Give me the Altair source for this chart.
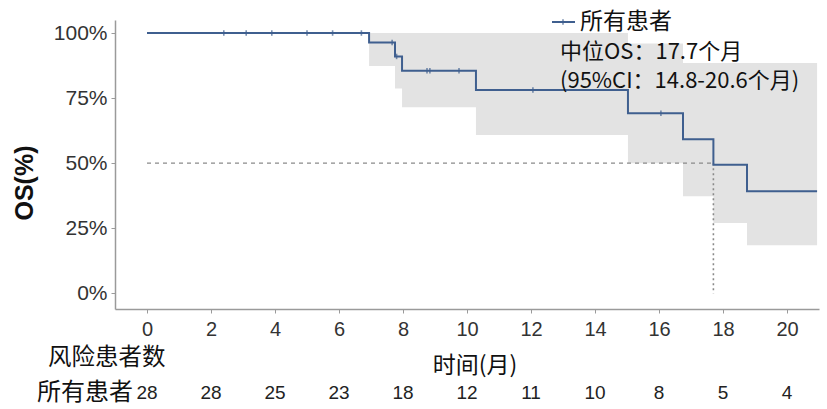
import altair as alt
import pandas as pd

# Kaplan-Meier overall survival (months, % alive) and its 95% CI band
step_time = [0, 6.94, 7.75, 7.97, 10.28, 15.03, 16.75, 17.7, 18.75, 20.94]
surv = [100, 96.4, 91.0, 85.5, 78.1, 69.2, 59.2, 49.4, 39.2, 39.2]
ci_low = [100, 87.3, 78.7, 71.5, 60.8, 50.0, 37.3, 27.0, 18.5, 18.5]
ci_high = [100, 100, 100, 100, 100, 96.0, 88.5, 88.5, 88.5, 88.5]

# censored observations
censor_time = [2.4, 3.1, 3.9, 5.0, 5.8, 6.7, 7.66, 7.8, 8.75, 8.84, 9.75, 12.06, 16.06]
censor_surv = [100, 100, 100, 100, 100, 100, 96.4, 91.0, 85.5, 85.5, 85.5, 78.1, 69.2]

median_os = 17.7

# number at risk table
risk_time = [0, 2, 4, 6, 8, 10, 12, 14, 16, 18, 20]
at_risk = [28, 28, 25, 23, 18, 12, 11, 10, 8, 5, 4]

x_ticks = [0, 2, 4, 6, 8, 10, 12, 14, 16, 18, 20]
y_ticks = [0, 25, 50, 75, 100]

legend_label = "所有患者"
median_text = "中位OS：17.7个月"
ci_text = "(95%CI：14.8-20.6个月)"

LINE = "#3f5f8f"
AXIS = "#9a9a9a"
CJK = "Noto Sans CJK SC"
LAT = "Liberation Sans"

km = pd.DataFrame({"t": step_time, "s": surv, "lo": ci_low, "hi": ci_high})
cens = pd.DataFrame({"t": censor_time, "s": censor_surv})
risk = pd.DataFrame({"t": risk_time, "n": at_risk})
med = pd.DataFrame({"t0": [0], "t": [median_os], "half": [50], "zero": [0]})

xs = alt.Scale(domain=[-1, 21], nice=False, zero=False)
ys = alt.Scale(domain=[-6, 105], nice=False, zero=False)

x_axis = alt.Axis(values=x_ticks, title=None, grid=False, domainColor=AXIS,
                  domainWidth=1.5, tickColor=AXIS, tickSize=4, labelFontSize=20,
                  labelColor="#333333", labelFont=LAT, labelPadding=6, labelFlush=False)
y_axis = alt.Axis(values=y_ticks, title=None, grid=False, domainColor=AXIS,
                  domainWidth=1.5, tickColor=AXIS, tickSize=4, labelFontSize=21,
                  labelColor="#333333", labelFont=LAT, labelPadding=4,
                  labelExpr="datum.value + '%'")

band = alt.Chart(km).mark_area(interpolate="step-after", color="#e3e3e3").encode(
    x=alt.X("t:Q", scale=xs, axis=x_axis),
    y=alt.Y("lo:Q", scale=ys, axis=y_axis),
    y2="hi:Q",
)

curve = alt.Chart(km).mark_line(interpolate="step-after", color=LINE, strokeWidth=2).encode(
    x=alt.X("t:Q", scale=xs), y=alt.Y("s:Q", scale=ys)
)

ticks = alt.Chart(cens).mark_point(shape="M0,-1L0,1", color=LINE, strokeWidth=1.6,
                                   size=30, filled=False).encode(
    x=alt.X("t:Q", scale=xs), y=alt.Y("s:Q", scale=ys)
)

h_ref = alt.Chart(med).mark_rule(color="#8a8a8a", strokeDash=[4, 4], strokeWidth=1.3).encode(
    x=alt.X("t0:Q", scale=xs), x2="t:Q", y=alt.Y("half:Q", scale=ys)
)
v_ref = alt.Chart(med).mark_rule(color="#8a8a8a", strokeDash=[2, 3], strokeWidth=1.6).encode(
    x=alt.X("t:Q", scale=xs), y=alt.Y("half:Q", scale=ys), y2="zero:Q"
)

risk_nums = alt.Chart(risk).mark_text(font=LAT, fontSize=19, color="#222222",
                                      baseline="middle").encode(
    x=alt.X("t:Q", scale=xs), y=alt.value(373), text="n:Q"
)


def label(txt, x, y, size, align="left", font=CJK, weight="normal", angle=0):
    return alt.Chart(pd.DataFrame({"txt": [txt]})).mark_text(
        font=font, fontSize=size, fontWeight=weight, align=align,
        baseline="middle", color="#111111", angle=angle
    ).encode(x=alt.value(x), y=alt.value(y), text="txt:N")


key_line = alt.Chart(pd.DataFrame({"k": [1]})).mark_rule(color=LINE, strokeWidth=2).encode(
    x=alt.value(437), x2=alt.value(460), y=alt.value(2)
)
key_tick = alt.Chart(pd.DataFrame({"k": [1]})).mark_point(
    shape="M0,-1L0,1", color=LINE, strokeWidth=1.6, size=30, filled=False
).encode(x=alt.value(448), y=alt.value(2))

chart = alt.layer(
    band, h_ref, v_ref, curve, ticks, risk_nums,
    key_line, key_tick,
    label(legend_label, 465, 2, 23),
    label(median_text, 445, 32, 22),
    label(ci_text, 445, 61, 22),
    label("OS(%)", -90, 163, 25, align="center", font=LAT, weight="bold", angle=270),
    label("风险患者数", -67, 338, 23.5),
    label("时间(月)", 360, 346, 23, align="center"),
    label("所有患者", -78, 373, 24),
).properties(
    width=704, height=289,
    autosize=alt.AutoSizeParams(type="none"),
    padding={"left": 115, "top": 20, "right": 8, "bottom": 100},
).configure_view(strokeWidth=0)

chart.save("out.html", embed_options={"renderer": "svg", "actions": False})
